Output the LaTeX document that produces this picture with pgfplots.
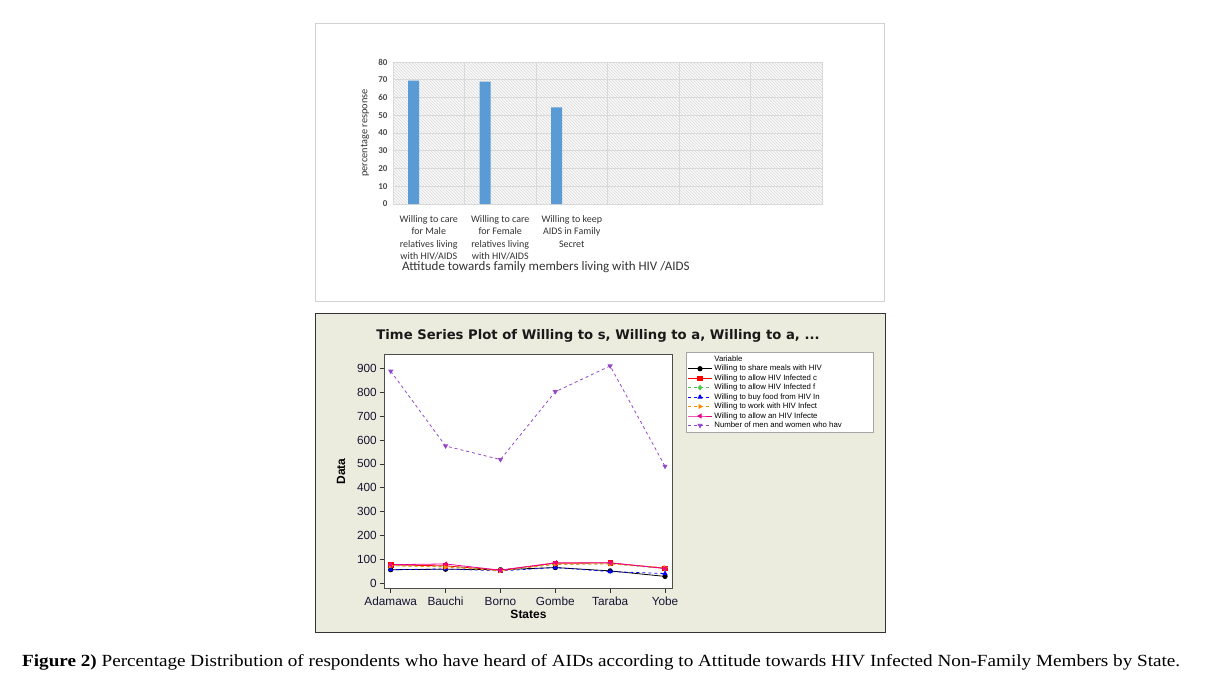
\documentclass[border=0pt]{standalone}
\usepackage{graphicx}
\usepackage{pgfplots}
\pgfplotsset{compat=1.18}
\usepackage{fontspec}
\setmainfont{Liberation Sans}
\newfontfamily\carlito{Carlito}
\newfontfamily\capserif{Liberation Serif}
\newfontfamily\dejavu{DejaVu Sans}
\usetikzlibrary{patterns}
\definecolor{barblue}{RGB}{91,155,213}
\definecolor{beige}{RGB}{236,236,222}
\definecolor{mpurple}{RGB}{150,70,200}
\definecolor{morange}{RGB}{255,140,0}
\definecolor{mgreen}{RGB}{70,200,70}
\definecolor{ticktxt}{RGB}{20,20,50}
\begin{document}
\begin{tikzpicture}
\useasboundingbox (0,0) rectangle (1217pt,-686pt);
\fill[white] (0,0) rectangle (1217pt,-686pt);
% ---------- top panel ----------
\draw[gray!35, line width=1.2pt] (315.5pt,-23.5pt) rectangle (884.5pt,-301.5pt);
\begin{axis}[
  at={(393pt,-204pt)}, anchor=south west,
  scale only axis, width=429pt, height=142pt,
  xmin=0, xmax=6, ymin=0, ymax=80,
  ytick={0,10,...,80},
  xtick={0.5,1.5,2.5},
  xticklabels={{Willing to care\\for Male\\relatives living\\with HIV/AIDS},
               {Willing to care\\for Female\\relatives living\\with HIV/AIDS},
               {Willing to keep\\AIDS in Family\\Secret}},
  minor xtick={0,1,...,6},
  xminorgrids, ymajorgrids,
  grid style={gray!30, line width=1pt},
  minor grid style={gray!30, line width=1pt},
  major tick length=0pt, minor tick length=0pt,
  axis line style={gray!30, line width=1pt},
  axis background/.style={preaction={fill=gray!5}, pattern=north west lines, pattern color=gray!28},
  /pgf/number format/assume math mode=true,
  yticklabel style={font=\carlito\bfseries\fontsize{9}{10}\selectfont, text=black!70, xshift=-2pt},
  xticklabel style={font=\carlito\fontsize{10}{12.5}\selectfont, text=black!80, align=center, yshift=-8pt},
  ylabel={percentage response},
  ylabel style={at={(axis description cs:-0.065,0.5)}, anchor=center, font=\carlito\fontsize{10.3}{11}\selectfont, text=black!80},
  ybar, bar width=11pt, bar shift=0pt,
]
\addplot[fill=barblue, draw=none] coordinates {(0.29,69.5) (1.29,69) (2.29,54.5)};
\end{axis}
\node[anchor=west, font=\carlito\fontsize{13}{15}\selectfont, text=black!80, inner sep=0] at (402pt,-267pt) {Attitude towards family members living with HIV /AIDS};
% ---------- bottom panel ----------
\filldraw[fill=beige, draw=black!80, line width=1pt] (315.5pt,-313.5pt) rectangle (885.5pt,-632.5pt);
\node[font=\dejavu\bfseries\fontsize{13.2}{15}\selectfont, text=black!90] at (598pt,-336pt) {Time Series Plot of Willing to s, Willing to a, Willing to a, ...};
\begin{axis}[
  at={(384.3pt,-588.7pt)}, anchor=south west,
  scale only axis, width=288.4pt, height=234.7pt,
  xmin=0.883, xmax=6.14, ymin=-22.6, ymax=960,
  xtick={1,...,6},
  xticklabels={Adamawa,Bauchi,Borno,Gombe,Taraba,Yobe},
  ytick={0,100,...,900},
  xtick pos=bottom, ytick pos=left,
  tick align=outside, major tick length=4pt,
  tick style={black!80, line width=0.6pt},
  axis line style={gray!60!black, line width=0.8pt},
  axis background/.style={fill=white},
  /pgf/number format/assume math mode=true,
  ticklabel style={font=\fontsize{11.8}{13}\selectfont, text=ticktxt},
  xticklabel style={yshift=-1pt},
  xlabel={States}, ylabel={Data},
  xlabel style={font=\bfseries\fontsize{12}{13}\selectfont, yshift=3pt},
  ylabel style={font=\bfseries\fontsize{12}{13}\selectfont, yshift=5pt},
  legend style={at={(1.046,1.0085)}, anchor=north west, draw=gray!70, fill=white,
     font=\fontsize{7.8}{8.5}\selectfont, row sep=-1.7pt, inner sep=1.5pt},
  legend cell align=left,
  legend image code/.code={\draw[mark repeat=2,mark phase=2] plot coordinates {(0cm,0cm)(0.42cm,0cm)(0.84cm,0cm)};},
  every axis plot/.append style={line width=0.8pt, mark size=2.2pt},
]
\addlegendimage{empty legend}\addlegendentry{Variable}
\addplot[black, mark=*] coordinates {(1,57) (2,59) (3,57) (4,66) (5,52) (6,29)};
\addlegendentry{\makebox[155pt][l]{Willing to share meals with HIV}}
\addplot[red, mark=square*] coordinates {(1,77) (2,73) (3,55) (4,84) (5,85) (6,63)};
\addlegendentry{Willing to allow HIV Infected c}
\addplot[mgreen, dashed, mark=diamond*, mark options={solid}] coordinates {(1,74) (2,70) (3,55) (4,79) (5,82) (6,62)};
\addlegendentry{Willing to allow HIV Infected f}
\addplot[blue, dashed, mark=triangle*, mark options={solid}] coordinates {(1,57) (2,60) (3,52) (4,66) (5,49) (6,41)};
\addlegendentry{Willing to buy food from HIV In}
\addplot[morange, dashed, mark=triangle*, mark options={solid, rotate=-90}] coordinates {(1,74) (2,68) (3,52) (4,80) (5,81) (6,66)};
\addlegendentry{Willing to work with HIV Infect}
\addplot[magenta, mark=triangle*, mark options={solid, rotate=90}] coordinates {(1,78) (2,81) (3,55) (4,86) (5,86) (6,62)};
\addlegendentry{Willing to allow an HIV Infecte}
\addplot[mpurple, dashed, mark=triangle*, mark options={solid, rotate=180}] coordinates {(1,888) (2,575) (3,518) (4,802) (5,910) (6,490)};
\addlegendentry{Number of men and women who hav}
\end{axis}
% ---------- caption ----------
\node[anchor=base west, inner sep=0] at (22pt,-666pt) {\resizebox{1158pt}{12pt}{\capserif\fontsize{12}{14}\selectfont\textbf{Figure 2)} Percentage Distribution of respondents who have heard of AIDs according to Attitude towards HIV Infected Non-Family Members by State.}};
\end{tikzpicture}
\end{document}
